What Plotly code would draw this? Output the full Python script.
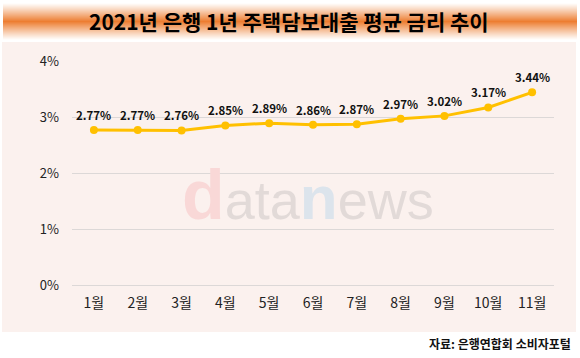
import plotly.graph_objects as go

months = ["1월", "2월", "3월", "4월", "5월", "6월", "7월", "8월", "9월", "10월", "11월"]
rates = [2.77, 2.77, 2.76, 2.85, 2.89, 2.86, 2.87, 2.97, 3.02, 3.17, 3.44]
y_ticks = [0, 1, 2, 3, 4]
y_tick_labels = ["0%", "1%", "2%", "3%", "4%"]

W, H = 580, 358
L, R, T, B = 72, 26, 61, 73
PW, PH = W - L - R, H - T - B

def px(x):
    return (x - L) / PW

def py(y):
    return (H - B - y) / PH

FONT = "Noto Sans CJK KR, Noto Sans, sans-serif"

fig = go.Figure()
fig.add_trace(go.Scatter(
    x=months, y=rates, mode="lines+markers",
    line=dict(color="#FFC000", width=3),
    marker=dict(color="#FFC000", size=8),
    hoverinfo="skip", showlegend=False,
))

shapes = []
# panel background
shapes.append(dict(type="rect", xref="paper", yref="paper", x0=px(2), x1=px(576),
                   y0=py(332), y1=py(42), fillcolor="#FBF1EE", line=dict(width=0), layer="below"))
# title gradient band
top, bot = 3, 40
n = bot - top
for i in range(n):
    t = (i + 0.5) / n
    a = max(0.0, 1 - abs(2 * t - 1)) ** 1.1
    r = round(255 + (237 - 255) * a)
    g = round(255 + (125 - 255) * a)
    b = round(255 + (49 - 255) * a)
    shapes.append(dict(type="rect", xref="paper", yref="paper", x0=px(3), x1=px(577),
                       y0=py(top + i + 1), y1=py(top + i), fillcolor=f"rgb({r},{g},{b})",
                       line=dict(width=0), layer="below"))

annotations = []
annotations.append(dict(
    text="<b>2021년 은행 1년 주택담보대출 평균 금리 추이</b>", xref="paper", yref="paper",
    x=px(289), y=py(21), xanchor="center", yanchor="middle", showarrow=False,
    font=dict(family=FONT, size=21, color="#000000")))
annotations.append(dict(
    text="<b>자료: 은행연합회 소비자포털</b>", xref="paper", yref="paper",
    x=px(573), y=py(343), xanchor="right", yanchor="middle", showarrow=False,
    font=dict(family=FONT, size=12, color="#111111")))
# watermark
annotations.append(dict(
    text=("<b><span style='color:#F9D8D7;font-size:70px'>d</span></b>"
          "<span style='color:#E2DAD8'>ata</span>"
          "<b><span style='color:#DCE4EC;font-size:62px'>n</span></b>"
          "<span style='color:#E2DAD8'>ews</span>"),
    xref="paper", yref="paper", x=px(180), y=py(236), xanchor="left", yanchor="bottom",
    showarrow=False,
    font=dict(family="Liberation Sans, Arial, sans-serif", size=54)))
# data labels
for m, v in zip(months, rates):
    annotations.append(dict(
        text=f"<b>{v:.2f}%</b>", x=m, y=v, xref="x", yref="y", yshift=15,
        xanchor="center", yanchor="middle", showarrow=False,
        font=dict(family=FONT, size=11.5, color="#111111")))

fig.update_layout(
    template="none",
    width=W, height=H,
    margin=dict(l=L, r=R, t=T, b=B, pad=0),
    paper_bgcolor="#FFFFFF",
    plot_bgcolor="rgba(0,0,0,0)",
    shapes=shapes,
    annotations=annotations,
    xaxis=dict(
        type="category", range=[-0.5, len(months) - 0.5],
        showgrid=False, showline=False, zeroline=False, ticks="",
        tickfont=dict(family=FONT, size=14, color="#222222"),
        ticklabelstandoff=8,
    ),
    yaxis=dict(
        range=[0, 4], tickvals=y_ticks, ticktext=y_tick_labels,
        showgrid=True, gridcolor="#DCD8D7", gridwidth=1,
        zeroline=True, zerolinecolor="#DCD8D7", zerolinewidth=1,
        showline=False, ticks="",
        tickfont=dict(family=FONT, size=13, color="#222222"),
        ticklabelstandoff=12,
    ),
)

fig.write_html("out.html", config={"displayModeBar": False},
               post_script="document.body.style.margin='0';document.body.style.padding='0';")
